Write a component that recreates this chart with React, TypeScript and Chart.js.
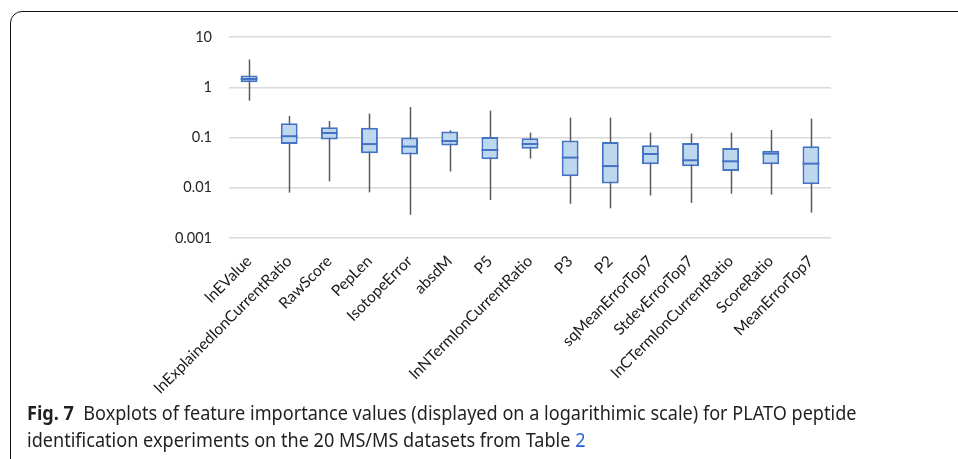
import React, { useEffect, useRef } from "react";
import { Chart, registerables } from "chart.js";

Chart.register(...registerables);

const categories = [
  "lnEValue",
  "lnExplainedIonCurrentRatio",
  "RawScore",
  "PepLen",
  "IsotopeError",
  "absdM",
  "P5",
  "lnNTermIonCurrentRatio",
  "P3",
  "P2",
  "sqMeanErrorTop7",
  "StdevErrorTop7",
  "lnCTermIonCurrentRatio",
  "ScoreRatio",
  "MeanErrorTop7",
];
const whiskerMin = [0.54, 0.008, 0.0134, 0.0081, 0.0029, 0.021, 0.0057, 0.038, 0.0048, 0.0039, 0.007, 0.005, 0.0076, 0.0073, 0.0032];
const q1 = [1.26, 0.074, 0.091, 0.0485, 0.046, 0.069, 0.0368, 0.06, 0.0169, 0.0122, 0.0293, 0.0267, 0.0215, 0.0293, 0.0117];
const median = [1.46, 0.106, 0.123, 0.074, 0.066, 0.085, 0.0564, 0.0743, 0.0398, 0.027, 0.047, 0.0352, 0.0336, 0.0478, 0.0302];
const q3 = [1.71, 0.192, 0.16, 0.157, 0.1, 0.131, 0.102, 0.0964, 0.0867, 0.0813, 0.07, 0.0778, 0.0618, 0.0548, 0.0668];
const whiskerMax = [3.56, 0.268, 0.213, 0.299, 0.405, 0.139, 0.343, 0.125, 0.249, 0.249, 0.125, 0.12, 0.125, 0.141, 0.238];
const yTicks = [10, 1, 0.1, 0.01, 0.001];
const yTickLabels = ["10", "1", "0.1", "0.01", "0.001"];

const CANVAS_W = 958;
const CANVAS_H = 405;

const boxPlugin = {
  id: "boxExtras",
  beforeDatasetsDraw(chart: any) {
    const ctx = chart.ctx;
    const y = chart.scales.y;
    const meta = chart.getDatasetMeta(0);
    ctx.save();
    ctx.strokeStyle = "#595959";
    ctx.lineWidth = 1.5;
    meta.data.forEach((el: any, i: number) => {
      const x = Math.round(el.x) + 0.5;
      ctx.beginPath();
      ctx.moveTo(x, y.getPixelForValue(whiskerMax[i]));
      ctx.lineTo(x, y.getPixelForValue(whiskerMin[i]));
      ctx.stroke();
    });
    ctx.restore();
  },
  afterDatasetsDraw(chart: any) {
    const ctx = chart.ctx;
    const y = chart.scales.y;
    const meta = chart.getDatasetMeta(0);
    ctx.save();
    ctx.strokeStyle = "#4472c4";
    ctx.lineWidth = 2;
    meta.data.forEach((el: any, i: number) => {
      const py = y.getPixelForValue(median[i]);
      ctx.beginPath();
      ctx.moveTo(el.x - el.width / 2, py);
      ctx.lineTo(el.x + el.width / 2, py);
      ctx.stroke();
    });
    ctx.restore();
  },
};

export default function App() {
  const ref = useRef<HTMLCanvasElement>(null);

  useEffect(() => {
    if (!ref.current) return;
    const chart = new Chart(ref.current, {
      type: "bar",
      data: {
        labels: categories,
        datasets: [
          {
            data: categories.map((_, i) => [q1[i], q3[i]]) as any,
            backgroundColor: "#bdd7ee",
            borderColor: "#4472c4",
            borderWidth: 2,
            borderSkipped: false,
            barPercentage: 0.42,
            categoryPercentage: 1,
          },
        ],
      },
      options: {
        responsive: false,
        animation: false,
        events: [],
        layout: { padding: { top: 37, right: 127, left: 0, bottom: 0 } },
        plugins: { legend: { display: false }, tooltip: { enabled: false } },
        scales: {
          x: {
            offset: true,
            grid: { display: false, drawTicks: false },
            border: { display: false },
            ticks: {
              autoSkip: false,
              maxRotation: 45,
              minRotation: 45,
              padding: 14,
              color: "#1a1a1a",
              font: { family: "Lato", size: 15.5 },
            },
            afterFit: (s: any) => {
              s.height = CANVAS_H - 238;
            },
          },
          y: {
            type: "logarithmic",
            min: 0.001,
            max: 10,
            grid: { color: "#d9d9d9", lineWidth: 1.5, drawTicks: false },
            border: { display: false },
            afterBuildTicks: (s: any) => {
              s.ticks = yTicks.map((v) => ({ value: v }));
            },
            ticks: {
              padding: 17,
              color: "#262626",
              font: { family: "Lato", size: 14.5 },
              callback: (v: any) => {
                const idx = yTicks.findIndex((t) => Math.abs(t - Number(v)) < t * 1e-6);
                return idx >= 0 ? yTickLabels[idx] : "";
              },
            },
            afterFit: (s: any) => {
              s.width = 229;
            },
          },
        },
      },
      plugins: [boxPlugin],
    });
    return () => chart.destroy();
  }, []);

  return (
    <div
      style={{
        position: "fixed",
        left: 0,
        top: 0,
        width: 958,
        height: 459,
        background: "#fff",
        overflow: "hidden",
      }}
    >
      <div
        style={{
          position: "absolute",
          left: 10,
          top: 11,
          width: 1000,
          height: 500,
          border: "1.3px solid #111",
          borderTopLeftRadius: 12,
          boxSizing: "border-box",
        }}
      />
      <canvas
        ref={ref}
        width={CANVAS_W}
        height={CANVAS_H}
        style={{ position: "absolute", left: 0, top: 0, width: CANVAS_W, height: CANVAS_H }}
      />
      <div
        style={{
          position: "absolute",
          left: 27,
          top: 400,
          fontFamily: "'Noto Sans', sans-serif",
          fontSize: 19,
          lineHeight: "26.5px",
          color: "#231f20",
          whiteSpace: "nowrap",
          transform: "scaleX(0.952)",
          transformOrigin: "left top",
        }}
      >
        <div>
          <b>Fig. 7</b>&nbsp; Boxplots of feature importance values (displayed on a logarithimic scale) for PLATO peptide
        </div>
        <div>
          identification experiments on the 20 MS/MS datasets from Table <span style={{ color: "#2b5fd9" }}>2</span>
        </div>
      </div>
    </div>
  );
}
